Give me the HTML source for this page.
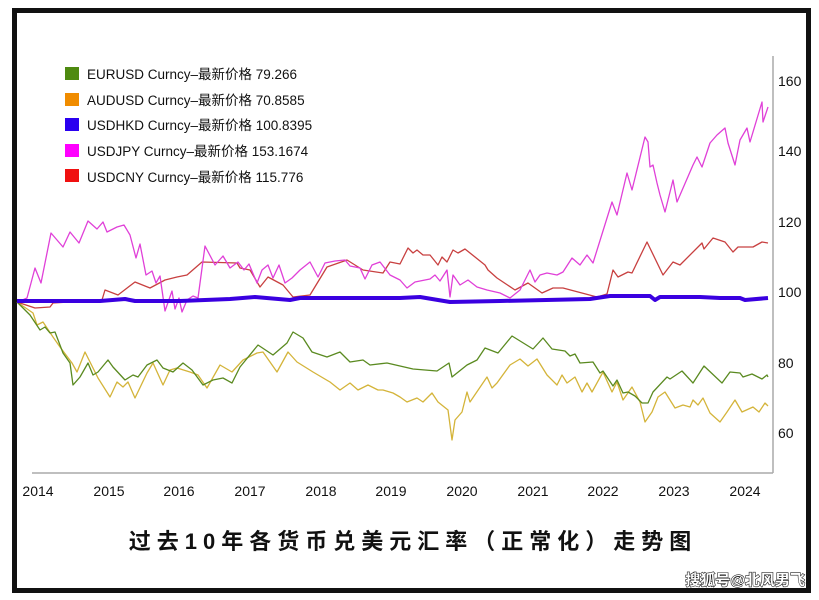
<!DOCTYPE html>
<html><head><meta charset="utf-8"><style>
html,body{margin:0;padding:0;background:#fff;}
body{width:819px;height:600px;position:relative;overflow:hidden;font-family:"Liberation Sans","Noto Sans CJK SC",sans-serif;}
</style></head><body>
<svg width="819" height="600" viewBox="0 0 819 600" xmlns="http://www.w3.org/2000/svg" style="position:absolute;left:0;top:0">
<rect x="14.5" y="10.5" width="794" height="580" fill="#fff" stroke="#111" stroke-width="5"/>
<line x1="773" y1="56" x2="773" y2="473" stroke="#aaa" stroke-width="1.5"/>
<line x1="32" y1="473" x2="773" y2="473" stroke="#aaa" stroke-width="1.5"/>
<g font-size="14" fill="#111" font-family="Liberation Sans, sans-serif">
<text x="778" y="86">160</text><text x="778" y="156">140</text><text x="778" y="227">120</text>
<text x="778" y="297">100</text><text x="778" y="368">80</text><text x="778" y="438">60</text>
</g>
<g font-size="14" fill="#111" text-anchor="middle" font-family="Liberation Sans, sans-serif">
<text x="38" y="496">2014</text><text x="109" y="496">2015</text><text x="179" y="496">2016</text><text x="250" y="496">2017</text><text x="321" y="496">2018</text><text x="391" y="496">2019</text><text x="462" y="496">2020</text><text x="533" y="496">2021</text><text x="603" y="496">2022</text><text x="674" y="496">2023</text><text x="745" y="496">2024</text>
</g>
<g fill="none" stroke-width="1.3" stroke-linejoin="round">
<polyline stroke="#d4b43a" points="17,302 33,313 37,325 43,322 53,337 60,347 72,363 77,372 85,352 98,378 110,397 117,382 123,387 128,382 135,398 147,373 153,363 163,385 170,370 177,368 190,372 198,375 207,388 220,365 232,372 243,360 257,353 263,352 277,372 288,352 297,362 313,372 330,382 340,390 350,383 358,390 368,385 378,390 383,390 393,393 400,397 407,402 417,398 423,402 432,393 438,402 448,410 452,440 455,420 462,412 467,392 470,402 487,377 492,388 497,383 510,365 520,359 528,366 537,359 547,375 557,385 562,375 567,383 575,377 582,392 587,383 592,392 603,372 612,392 617,382 623,400 632,387 640,402 645,422 652,412 658,397 665,392 675,408 683,405 690,407 693,400 698,405 703,398 710,413 720,422 727,412 735,400 742,412 753,407 759,412 765,403 768,406"/>
<polyline stroke="#5a8a20" points="17,302 30,315 40,330 45,327 50,333 55,332 63,353 70,363 73,385 80,377 88,363 93,375 98,372 108,360 113,367 125,380 133,375 138,377 147,365 157,360 163,368 173,372 183,363 192,370 203,385 213,380 223,378 232,383 240,367 258,345 273,355 287,343 293,332 303,338 312,352 327,357 340,352 350,362 363,360 370,365 387,363 400,366 413,369 437,371 449,363 452,377 467,365 477,360 485,348 498,353 512,336 533,349 543,338 552,349 565,351 570,356 575,354 580,363 593,362 600,373 603,371 613,386 617,380 623,393 628,392 635,396 642,403 648,403 653,392 667,377 670,379 682,371 693,383 704,366 722,383 730,372 740,373 743,377 752,374 762,379 767,375 768,377"/>
<polyline stroke="#c84040" points="17,302 35,308 50,307 53,303 102,300 105,290 118,295 135,282 150,288 165,280 177,277 187,275 202,262 237,263 240,268 250,270 260,287 268,277 283,285 293,297 310,295 327,267 347,260 363,270 383,273 390,262 400,264 408,248 413,253 417,250 423,255 430,255 438,265 442,257 447,262 453,250 458,253 465,249 485,265 488,270 497,278 515,290 528,283 542,293 553,288 563,288 597,297 607,294 613,270 618,277 628,272 632,273 647,242 663,275 673,262 680,265 702,243 704,249 713,238 725,242 733,252 738,247 753,247 762,242 768,243"/>
<polyline stroke="#e040d8" points="18,302 27,298 35,268 41,283 51,233 63,247 70,232 79,243 88,221 97,229 103,222 107,232 117,227 124,225 130,235 136,258 140,244 146,275 152,271 156,283 160,276 165,311 172,291 175,309 179,298 182,312 187,300 193,296 198,298 205,246 215,265 223,256 230,268 238,262 244,270 249,264 257,283 262,270 268,265 273,278 279,265 285,283 292,278 300,270 310,262 318,277 325,263 335,261 345,260 350,266 360,268 365,279 372,265 380,262 390,275 400,280 407,288 415,282 430,279 435,275 440,281 447,270 450,297 453,275 460,285 468,280 477,287 487,290 500,293 510,298 520,290 530,270 535,282 540,275 547,273 557,275 563,272 572,258 580,265 587,255 593,263 612,202 617,215 627,173 632,190 645,137 648,142 650,167 653,165 657,183 660,195 665,212 673,180 677,202 693,165 697,157 702,167 710,143 717,135 725,128 728,143 735,165 740,140 747,128 750,142 762,102 763,122 768,107"/>
<polyline stroke="#3a00e0" stroke-width="4" points="17,301 100,301 125,299 135,301 180,301 230,299 255,297 290,300 300,298 400,298 420,297 450,302 500,301 590,299 610,296 650,296 655,300 660,297 700,297 720,298 740,298 745,300 768,298"/>
</g>
<g font-size="13.5" fill="#111">
<rect x="65" y="67" width="14" height="13" fill="#4e8a10"/><text x="87" y="79">EURUSD Curncy–最新价格 79.266</text>
<rect x="65" y="93" width="14" height="13" fill="#f08c00"/><text x="87" y="105">AUDUSD Curncy–最新价格 70.8585</text>
<rect x="65" y="118" width="14" height="13" fill="#2a00f0"/><text x="87" y="130">USDHKD Curncy–最新价格 100.8395</text>
<rect x="65" y="144" width="14" height="13" fill="#ff00ff"/><text x="87" y="156">USDJPY Curncy–最新价格 153.1674</text>
<rect x="65" y="169" width="14" height="13" fill="#f01010"/><text x="87" y="182">USDCNY Curncy–最新价格 115.776</text>
</g>
<text x="413" y="549" text-anchor="middle" font-size="22" font-weight="bold" letter-spacing="6" fill="#111" font-family="Liberation Sans, Noto Sans CJK SC, sans-serif">过去10年各货币兑美元汇率（正常化）走势图</text>
<text x="805" y="585" text-anchor="end" font-size="15" font-weight="bold" fill="#fff" stroke="#222" stroke-width="1.2" paint-order="stroke" font-family="Liberation Sans, Noto Sans CJK SC, sans-serif">搜狐号@北风男飞</text>
</svg>
</body></html>
